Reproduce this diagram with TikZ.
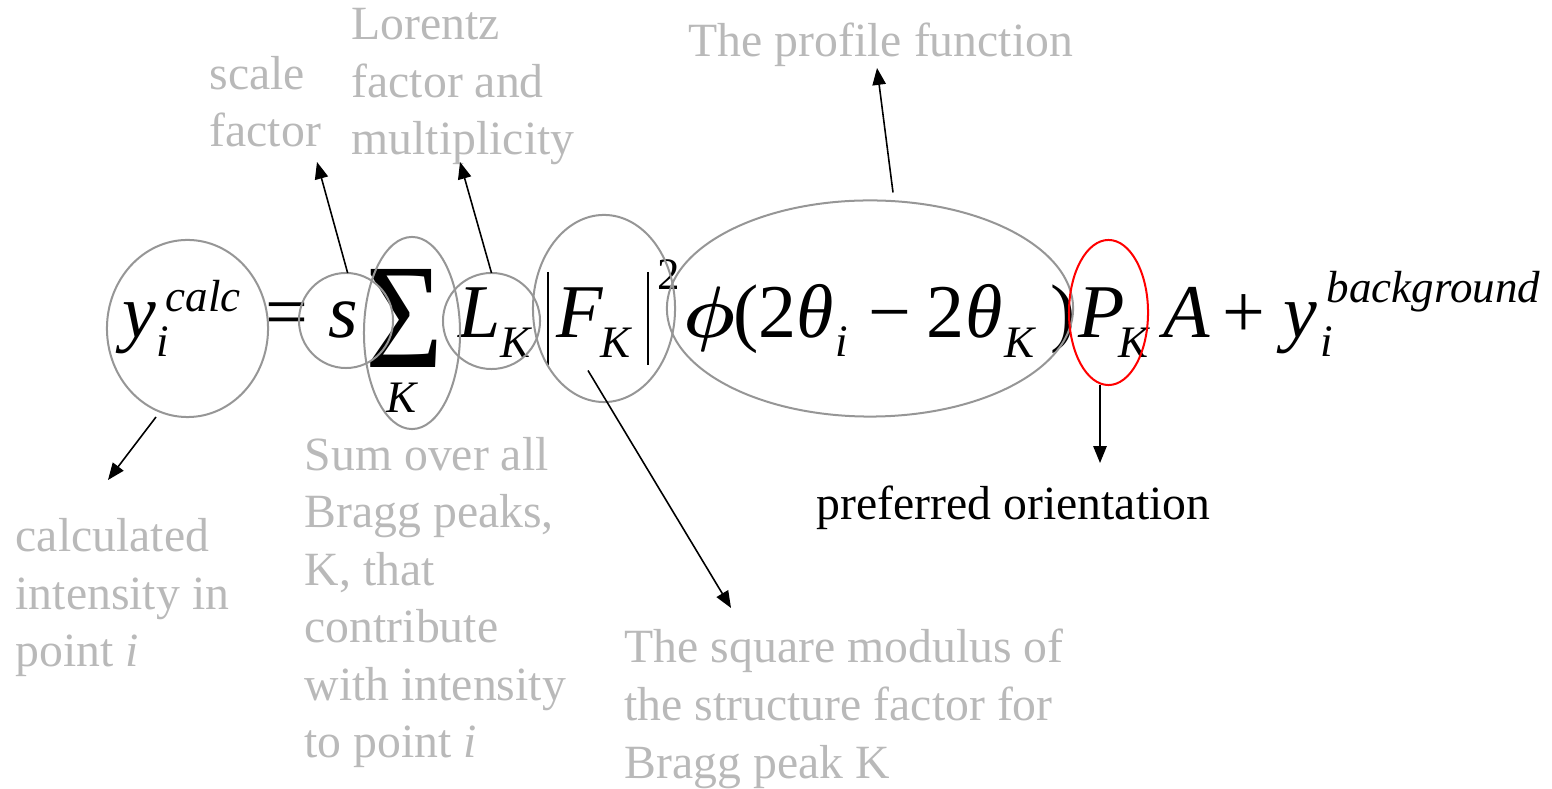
\documentclass[tikz,border=0pt]{standalone}
\usepackage{fontspec}
\usepackage{bm}
\setmainfont{Liberation Serif}
\usetikzlibrary{arrows.meta,shapes.geometric}
\definecolor{notegray}{RGB}{185,185,185}
\definecolor{ringgray}{RGB}{150,150,150}
\tikzset{
  ring/.style={draw=ringgray,line width=0.57pt,ellipse,inner sep=0pt,outer sep=0pt},
  pointer/.style={-{Triangle[length=4.8pt,width=3.8pt]},line width=0.45pt},
  eqit/.style={anchor=base west,inner sep=0pt,font=\fontsize{21.6}{26}\selectfont\itshape},
  equp/.style={anchor=base west,inner sep=0pt,font=\fontsize{21.6}{26}\selectfont\upshape},
  eqsub/.style={anchor=base west,inner sep=0pt,font=\fontsize{12.8}{15}\selectfont\itshape},
  note/.style={anchor=base west,inner sep=0pt,align=left,text=notegray,font=\fontsize{13.57}{16.36}\selectfont},
}
\begin{document}
\begin{tikzpicture}[x=0.01cm,y=-0.01cm]
  \useasboundingbox (0,0) rectangle (1552,789);

  % equation: italic letters
  \foreach \px/\t [count=\n] in {122/y, 328/s, 458/L, 556/F, 796/θ, 965/θ, 1078/P, 1163/A, 1283/y}
    \node[eqit] (it\n) at (\px,338) {\t};
  \node[eqit] (phi) at (683,338) {$\bm{\phi}$};
  % upright signs and digits
  \foreach \px/\t [count=\n] in {265/=, 733/(, 758/2, 868/−, 926/2, 1050/), 1222/+}
    \node[equp] (up\n) at (\px,338) {\t};
  % indices
  \foreach \px/\py/\t [count=\n] in {165/312/calc, 156/357/i, 386/413/K, 500/358/K, 600/358/K, 835/357/i, 1004/358/K, 1118/358/K, 1320/357/i, 1326/303/background}
    \node[eqsub] (sb\n) at (\px,\py) {\t};
  \node[eqsub,font=\fontsize{12.8}{15}\selectfont\upshape] (sq) at (657,290) {2};
  \node[anchor=base west,inner sep=0pt] (sum) at (365,368) {\resizebox{0.78cm}{0.98cm}{Σ}};

  % modulus bars
  \draw[line width=0.45pt] (548,272) -- (548,365) (648,272) -- (648,365);

  % rings
  \node[ring,minimum width=1.61cm,minimum height=1.77cm] (yc) at (187.5,328.5) {};
  \node[ring,minimum width=0.94cm,minimum height=0.95cm] (sc) at (346,320.5) {};
  \node[ring,minimum width=0.96cm,minimum height=1.92cm] (sumc) at (412,333) {};
  \node[ring,minimum width=0.97cm,minimum height=0.96cm] (Lc) at (491.5,321) {};
  \node[ring,minimum width=1.42cm,minimum height=1.87cm] (Fc) at (604,308.5) {};
  \node[ring,minimum width=4.06cm,minimum height=2.16cm] (profc) at (870,308.5) {};
  \node[ring,draw=red,minimum width=0.79cm,minimum height=1.45cm] (Pc) at (1108.5,312.5) {};

  % notes (placed by the baseline of their last line)
  \node[note] (calcnote) at (15,667) {calculated\\intensity in\\point \textit{i}};
  \node[note] (scalenote) at (209,147) {scale\\factor};
  \node[note] (lornote) at (351,155) {Lorentz\\factor and\\multiplicity};
  \node[note] (sumnote) at (304,758) {Sum over all\\Bragg peaks,\\K, that\\contribute\\with intensity\\to point \textit{i}};
  \node[note] (profnote) at (688,57) {The profile function};
  \node[note] (fnote) at (624,778) {The square modulus of\\the structure factor for\\Bragg peak K};
  \node[note,text=black] (prefnote) at (816,520) {preferred orientation};

  % arrow tips
  \coordinate (calctip) at (108,480);
  \coordinate (scaletip) at (317,162);
  \coordinate (lortip) at (460,162);
  \coordinate (proftip) at (877,68);
  \coordinate (ftip) at (731,608);
  \coordinate (preftip) at (1100,463);

  % arrows
  \draw[pointer] ([shift={(-31.5,88.5)}]yc.center) -- (calctip);
  \draw[pointer] (sc.88) -- (scaletip);
  \draw[pointer] (Lc.north) -- (lortip);
  \draw[pointer] ([shift={(23,-8)}]profc.north) -- (proftip);
  \draw[pointer] ([shift={(-16,62)}]Fc.center) -- (ftip);
  \draw[pointer] ([xshift=-0.085cm]Pc.south) -- (preftip);
\end{tikzpicture}
\end{document}
